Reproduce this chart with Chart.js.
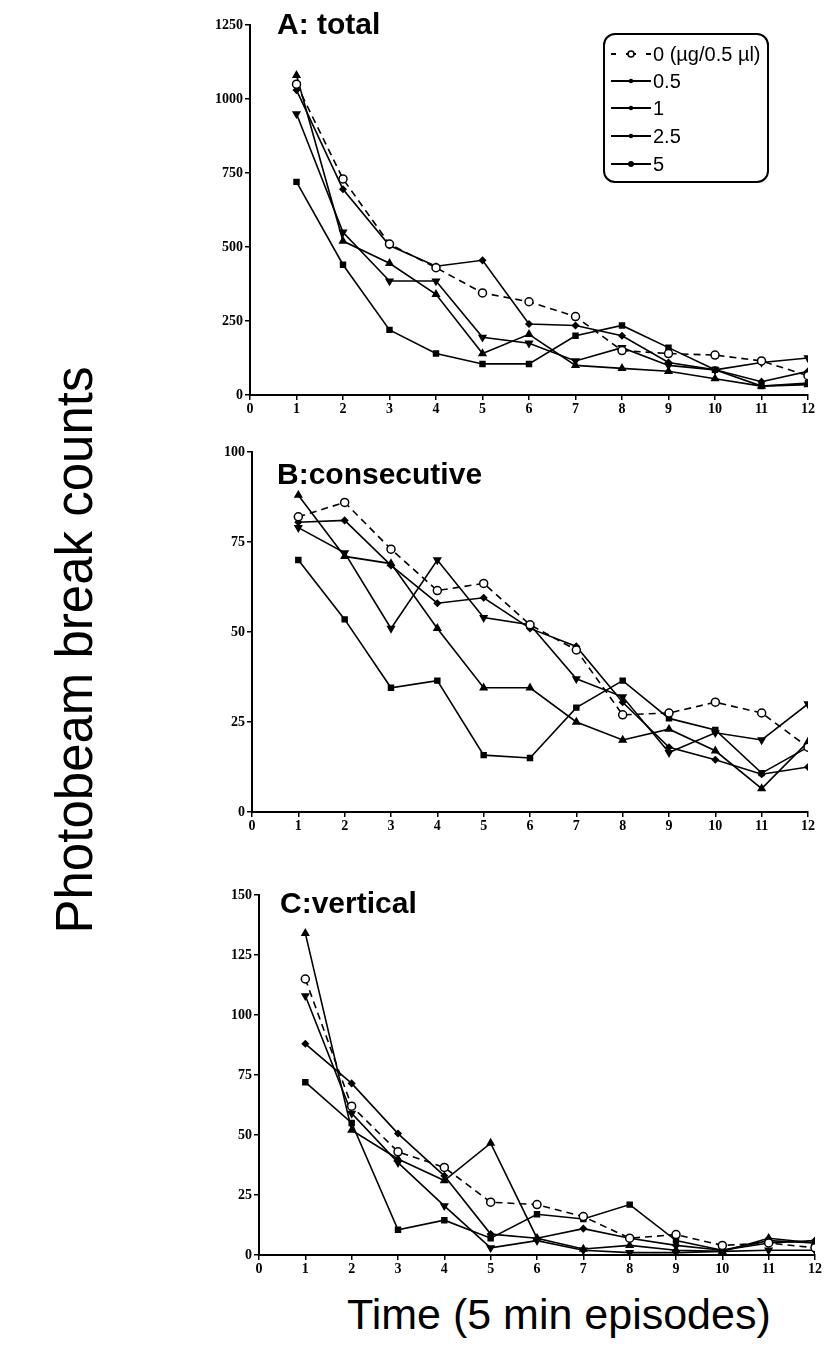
<!DOCTYPE html>
<html>
<head>
<meta charset="utf-8">
<script src="https://cdn.jsdelivr.net/npm/chart.js@4.4.1/dist/chart.umd.min.js"></script>
<style>
body { margin:0; background:#fff; width:825px; height:1359px; position:relative; overflow:hidden; font-family:"Liberation Sans", Arial, sans-serif; color:#000; }
canvas { position:absolute; }
.ptitle { position:absolute; font-weight:bold; font-size:30px; line-height:30px; white-space:nowrap; }
#legend { position:absolute; left:603px; top:33px; width:162px; height:146px; border:2px solid #000; border-radius:12px; }
.lrow { position:absolute; left:0; height:22px; line-height:22px; font-size:20px; white-space:nowrap; }
.lrow svg { position:absolute; left:6px; top:4px; }
.lrow span { position:absolute; left:48px; top:0; }
#ytitle { position:absolute; left:-225px; top:625px; width:600px; height:50px; line-height:50px; font-size:51px; text-align:center; transform:rotate(-90deg); white-space:nowrap; }
#xtitle { position:absolute; left:347px; top:1293px; font-size:43px; line-height:43px; white-space:nowrap; }
</style>
</head>
<body>
<canvas id="chartA" width="630" height="410" style="left:190px;top:10px"></canvas>
<canvas id="chartB" width="630" height="400" style="left:190px;top:437px"></canvas>
<canvas id="chartC" width="635" height="400" style="left:190px;top:880px"></canvas>
<div class="ptitle" style="left:277px;top:9px">A: total</div>
<div class="ptitle" style="left:277px;top:459px">B:consecutive</div>
<div class="ptitle" style="left:280px;top:888px">C:vertical</div>
<div id="legend"></div>
<div id="ytitle">Photobeam break counts</div>
<div id="xtitle">Time (5 min episodes)</div>
<script>
// time points (5 min episodes)
var episodes = [1, 2, 3, 4, 5, 6, 7, 8, 9, 10, 11, 12];
var xTicks = [0, 1, 2, 3, 4, 5, 6, 7, 8, 9, 10, 11, 12];
var doseLabels = ["0 (\u00b5g/0.5 \u00b5l)", "0.5", "1", "2.5", "5"];

// A: total
var totalDose0  = [1050, 730, 510, 430, 345, 315, 265, 150, 140, 135, 115, 65];
var totalDose05 = [1030, 695, 505, 435, 455, 240, 235, 200, 110, 85, 45, 80];
var totalDose1  = [1080, 520, 445, 340, 140, 205, 100, 90, 80, 55, 30, 35];
var totalDose25 = [950, 550, 385, 385, 195, 175, 115, 160, 100, 85, 110, 125];
var totalDose5  = [720, 440, 220, 140, 105, 105, 200, 235, 160, 85, 30, 40];
var totalTicks = [0, 250, 500, 750, 1000, 1250];

// B: consecutive
var consecDose0  = [82, 86, 73, 61.5, 63.5, 52, 45, 27, 27.5, 30.5, 27.5, 18];
var consecDose05 = [80.5, 81, 68.5, 58, 59.5, 51, 46, 30.5, 18, 14.5, 10.5, 12.5];
var consecDose1  = [88, 71, 69, 51, 34.5, 34.5, 25, 20, 23, 17, 6.5, 19.5];
var consecDose25 = [79, 72, 51, 70, 54, 52, 37, 32, 16.5, 22, 20, 30];
var consecDose5  = [70, 53.5, 34.5, 36.5, 15.8, 15, 29, 36.5, 26, 22.8, 10.8, 18];
var consecTicks = [0, 25, 50, 75, 100];

// C: vertical
var vertDose0  = [115, 62, 43, 36.5, 22, 21, 16, 7, 8.5, 4, 5, 3];
var vertDose05 = [88, 71.5, 50.6, 33, 8.7, 7, 11, 7, 4, 2, 5, 6];
var vertDose1  = [134, 52, 40, 31, 46.6, 7, 2.5, 4, 2, 1.5, 7, 5];
var vertDose25 = [108, 59, 38.5, 20.5, 3, 6, 2, 1, 1, 1.5, 2, 2];
var vertDose5  = [72, 55, 10.5, 14.5, 7, 17, 15, 21, 6, 2, 6, 5];
var vertTicks = [0, 25, 50, 75, 100, 125, 150];

var doseStyles = [
	{dash: [7, 5], point: "circle", radius: 4, fill: "#ffffff", rotation: 0},
	{dash: [], point: "rectRot", radius: 3, fill: "#000000", rotation: 0},
	{dash: [], point: "triangle", radius: 3.8, fill: "#000000", rotation: 0},
	{dash: [], point: "triangle", radius: 3.8, fill: "#000000", rotation: 180},
	{dash: [], point: "rect", radius: 3.5, fill: "#000000", rotation: 0}
];

var tickFont = {family: "'Liberation Serif', 'Times New Roman', serif", size: 14, weight: "bold"};

function makeDatasets(seriesList)
{
	return seriesList.map(function(values, i){
		var st = doseStyles[i];
		return {
			label: doseLabels[i],
			data: values.map(function(v, j){ return {x: episodes[j], y: v}; }),
			borderColor: "#000",
			borderWidth: 1.6,
			borderDash: st.dash,
			pointStyle: st.point,
			pointRadius: st.radius,
			pointRotation: st.rotation,
			pointBackgroundColor: st.fill,
			pointBorderColor: "#000",
			pointBorderWidth: 1.5,
			tension: 0,
			fill: false
		};
	});
}

function plainLabel(v){ return String(v); }

function makePanel(id, seriesList, yTicks, yWidth, padRight)
{
	new Chart(document.getElementById(id), {
		type: "line",
		data: {datasets: makeDatasets(seriesList)},
		options: {
			responsive: false,
			animation: false,
			layout: {padding: {top: 15, right: padRight, left: 0, bottom: 0}},
			plugins: {legend: {display: false}, tooltip: {enabled: false}},
			scales: {
				x: {
					type: "linear",
					min: xTicks[0],
					max: xTicks[xTicks.length - 1],
					afterBuildTicks: function(s){ s.ticks = xTicks.map(function(v){ return {value: v}; }); },
					ticks: {color: "#000", font: tickFont, padding: 1, autoSkip: false, maxRotation: 0, callback: plainLabel},
					grid: {display: true, drawOnChartArea: false, drawTicks: true, tickLength: 5, color: "#000", lineWidth: 1.5},
					border: {display: true, color: "#000", width: 2},
					afterFit: function(s){ s.height = 25; }
				},
				y: {
					type: "linear",
					min: yTicks[0],
					max: yTicks[yTicks.length - 1],
					afterBuildTicks: function(s){ s.ticks = yTicks.map(function(v){ return {value: v}; }); },
					ticks: {color: "#000", font: tickFont, padding: 2, autoSkip: false, callback: plainLabel},
					grid: {display: true, drawOnChartArea: false, drawTicks: true, tickLength: 5, color: "#000", lineWidth: 1.5},
					border: {display: true, color: "#000", width: 2},
					afterFit: function(s){ s.width = yWidth; }
				}
			}
		}
	});
}

makePanel("chartA", [totalDose0, totalDose05, totalDose1, totalDose25, totalDose5], totalTicks, 60, 12);
makePanel("chartB", [consecDose0, consecDose05, consecDose1, consecDose25, consecDose5], consecTicks, 62, 12);
makePanel("chartC", [vertDose0, vertDose05, vertDose1, vertDose25, vertDose5], vertTicks, 69, 10);

// legend box for panel A
function legendSvg(st, first)
{
	var ns = "http://www.w3.org/2000/svg";
	var svg = document.createElementNS(ns, "svg");
	svg.setAttribute("width", "40");
	svg.setAttribute("height", "14");
	var line = document.createElementNS(ns, "line");
	line.setAttribute("x1", "0"); line.setAttribute("x2", "40");
	line.setAttribute("y1", "7"); line.setAttribute("y2", "7");
	line.setAttribute("stroke", "#000");
	line.setAttribute("stroke-width", "2");
	if(first) line.setAttribute("stroke-dasharray", "5,10,10,10");
	svg.appendChild(line);
	var m = document.createElementNS(ns, "circle");
	m.setAttribute("cx", "20"); m.setAttribute("cy", "7");
	if(st.point == "circle"){
		m.setAttribute("r", "3");
		m.setAttribute("fill", "#fff"); m.setAttribute("stroke", "#000"); m.setAttribute("stroke-width", "1.5");
	} else {
		m.setAttribute("r", st.point == "rect" ? "3" : "2.2");
		m.setAttribute("fill", "#000");
	}
	svg.appendChild(m);
	return svg;
}

var legendBox = document.getElementById("legend");
var rowTops = [8, 35, 62, 90, 118];
for(var i = 0; i < doseLabels.length; i++)
{
	var row = document.createElement("div");
	row.className = "lrow";
	row.style.top = rowTops[i] + "px";
	row.appendChild(legendSvg(doseStyles[i], i == 0));
	var txt = document.createElement("span");
	txt.textContent = doseLabels[i];
	row.appendChild(txt);
	legendBox.appendChild(row);
}
</script>
</body>
</html>
